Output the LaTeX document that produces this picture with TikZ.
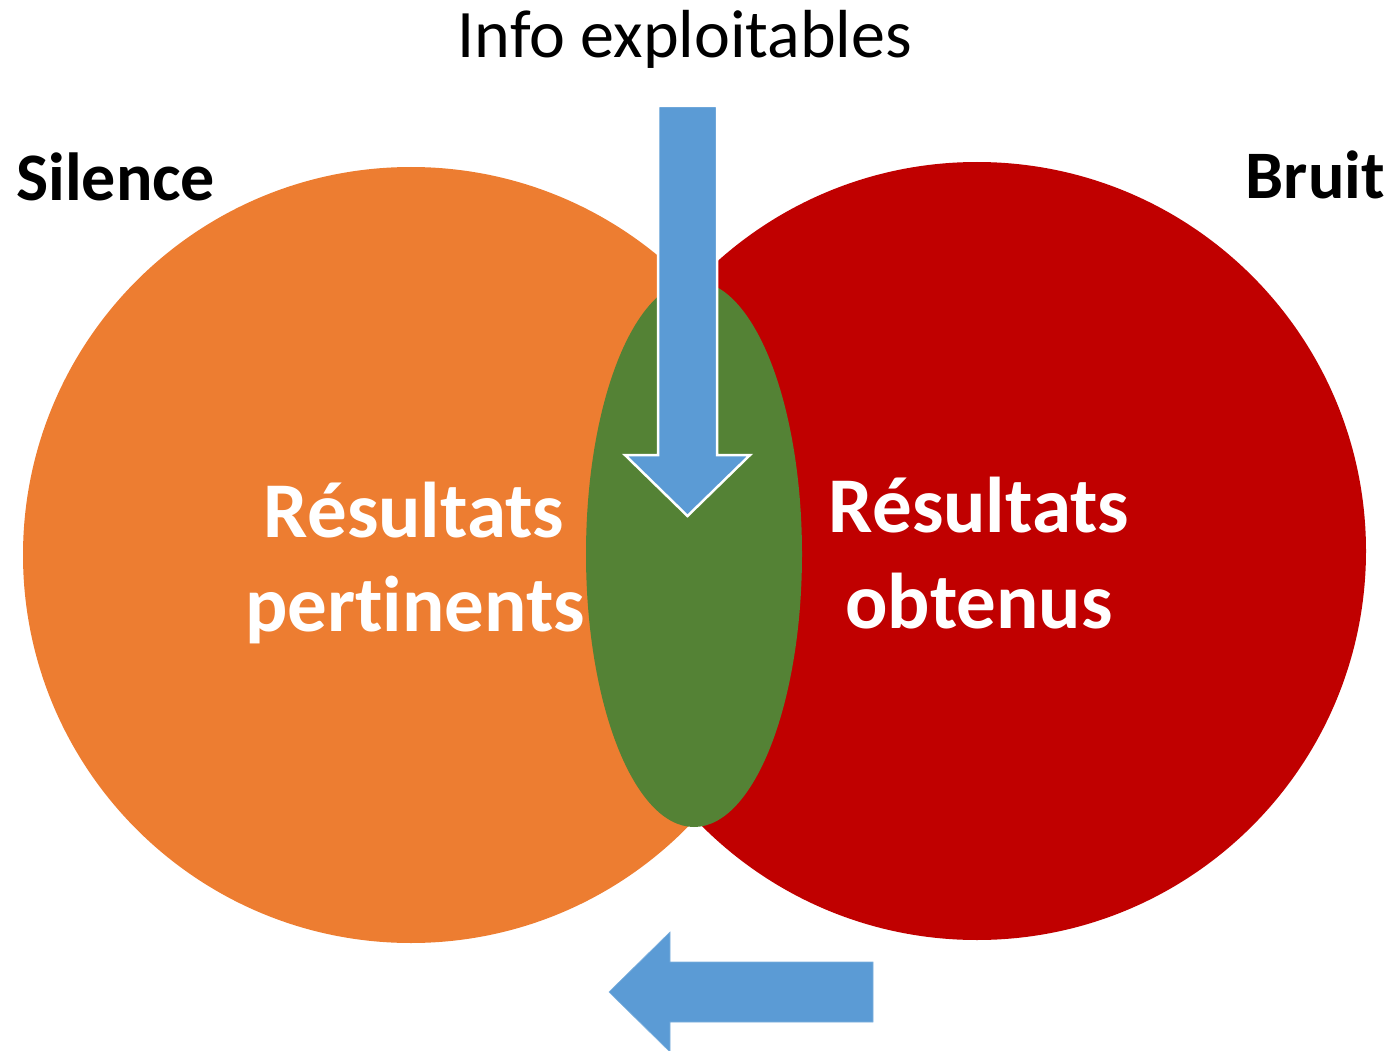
\documentclass[tikz,border=0pt]{standalone}
\usepackage{fontspec}
\setmainfont{Carlito}[Ligatures=NoCommon]
\usetikzlibrary{shapes.geometric}
\definecolor{silorange}{HTML}{ED7D31}
\definecolor{bruitred}{HTML}{C00000}
\definecolor{infogreen}{HTML}{548235}
\definecolor{arrowblue}{HTML}{5B9BD5}
\tikzset{
  setcircle/.style={circle, inner sep=0pt, outer sep=0pt, minimum size=#1},
  bigwhite/.style={text=white, font=\fontsize{79}{95}\selectfont\bfseries, inner sep=0pt, anchor=base},
  sidelabel/.style={text=black, font=\fontsize{68}{82}\selectfont\bfseries, inner sep=0pt},
  toplabel/.style={text=black, font=\fontsize{68}{82}\selectfont, inner sep=0pt, anchor=base},
}
\begin{document}
\begin{tikzpicture}[x=1pt, y=-1pt]
\useasboundingbox (0,0) rectangle (1393,1051);
\node[setcircle=776pt, fill=silorange] (pertinentscircle) at (411,555) {};
\node[setcircle=778pt, fill=bruitred] (obtenuscircle) at (977,551) {};
\node[ellipse, inner sep=0pt, outer sep=0pt, minimum width=216pt, minimum height=546pt, fill=infogreen] (intersection) at (694,554) {};
% down arrow
\fill[arrowblue, draw=white, line width=2.5pt, line join=miter]
  (658,106) -- (717,106) -- (717,455) -- (750,455) -- (687.5,516) -- (625,455) -- (658,455) -- cycle;
% bottom left arrow
\fill[arrowblue, draw=arrowblue!80!white, line width=0.6pt]
  (873,962) -- (670,962) -- (670,932) -- (609,992) -- (670,1052) -- (670,1022) -- (873,1022) -- cycle;
\node[toplabel] (info) at (685,58) {Info exploitables};
\node[sidelabel, anchor=base west] (silence) at (16,201) {Silence};
\node[sidelabel, anchor=base east] (bruit) at (1385,199) {Bruit};
\node[bigwhite] (pertA) at (414,537) {Résultats};
\node[bigwhite] (pertB) at (415,631) {pertinents};
\node[bigwhite] (obtA) at (979,532) {Résultats};
\node[bigwhite] (obtB) at (979,628) {obtenus};
\end{tikzpicture}
\end{document}
